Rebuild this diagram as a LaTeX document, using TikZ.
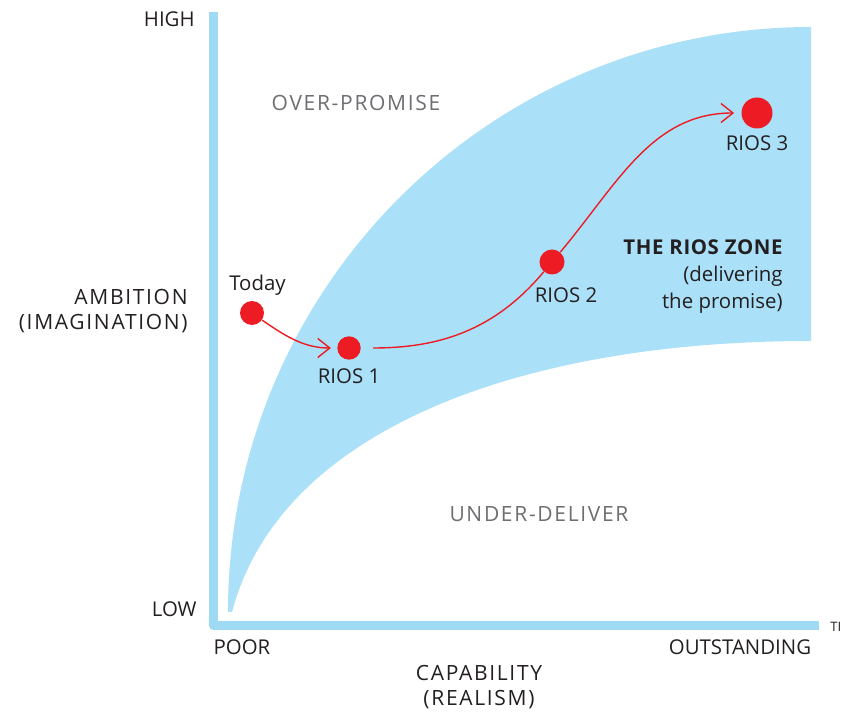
\documentclass[tikz,border=0pt]{standalone}
\usepackage{fontspec}
\setmainfont{Open Sans}
\newfontfamily\widefont[LetterSpace=8]{Open Sans}
\newfontfamily\titlefont[LetterSpace=3]{Open Sans Bold}
\usetikzlibrary{arrows.meta,positioning}
\definecolor{zoneblue}{HTML}{ABE0F9}
\definecolor{axisblue}{HTML}{9FDAF5}
\definecolor{dotred}{HTML}{ED1C24}
\definecolor{ink}{HTML}{231F20}
\definecolor{mute}{HTML}{6D6E71}

\begin{document}
\begin{tikzpicture}[x=0.5pt,y=-0.5pt,
    dot/.style={circle,fill=dotred,inner sep=0pt},
    lbl/.style={inner sep=0pt,text=ink,font=\fontsize{10.2}{13.5}\selectfont},
    wide/.style={lbl,font=\fontsize{10.5}{12.5}\selectfont\widefont},
    trail/.style={dotred,line width=0.7pt,-{Straight Barb[length=6pt,width=9.5pt]}}]
    \useasboundingbox (0,0) rectangle (841,715);

    % the zone between the two curves
    \fill[zoneblue] (228,612) .. controls (228,289) and (489,27) .. (811,27)
        -- (811,341) .. controls (520,341) and (280,430) .. (232,612) -- cycle;

    % axes
    \draw[axisblue,line width=4.5pt,line join=round]
        (213.5,12) -- (213.5,625.5) -- (819,625.5);

    \node[lbl,anchor=east] (high) at (195,19.5) {HIGH};
    \node[lbl,anchor=east] (low) at (197,609) {LOW};
    \node[lbl] (poor) at (242,647) {POOR};
    \node[lbl] (outst) at (740,647) {OUTSTANDING};
    \node[lbl,anchor=west,font=\fontsize{6.5}{8}\selectfont] (cut) at (830,627) {TI};
    \node[wide,anchor=east,align=right] (ambition) at (188,311) {AMBITION\\(IMAGINATION)};
    \node[wide,align=center] (capab) at (479,687) {CAPABILITY\\(REALISM)};
    \node[wide,text=mute] (over) at (356,103) {OVER-PROMISE};
    \node[wide,text=mute] (under) at (539,514) {UNDER-DELIVER};
    \node[lbl,anchor=north east,align=right] (zone) at (783,239)
        {{\titlefont THE RIOS ZONE}\\(delivering\\the promise)};

    \node[dot,minimum size=12pt] (today) at (252,313) {};
    \node[dot,minimum size=11.7pt] (r1) at (349,348) {};
    \node[dot,minimum size=12.5pt] (r2) at (552,262) {};
    \node[dot,minimum size=15.5pt] (r3) at (757,113) {};

    \node[lbl,above=2.5pt of today,xshift=2.75pt] {Today};
    \node[lbl,below=4pt of r1] {RIOS 1};
    \node[lbl,below=6pt of r2,xshift=7pt] {RIOS 2};
    \node[lbl,below=3pt of r3] {RIOS 3};

    \draw[trail,shorten >=3pt] (today) to[out=-35,in=180] (r1);
    \draw[trail,-,shorten <=6pt] (r1) to[out=0,in=-130] (r2);
    \draw[trail,shorten >=3.5pt] (r2) to[out=50,in=180] (r3);
\end{tikzpicture}
\end{document}
